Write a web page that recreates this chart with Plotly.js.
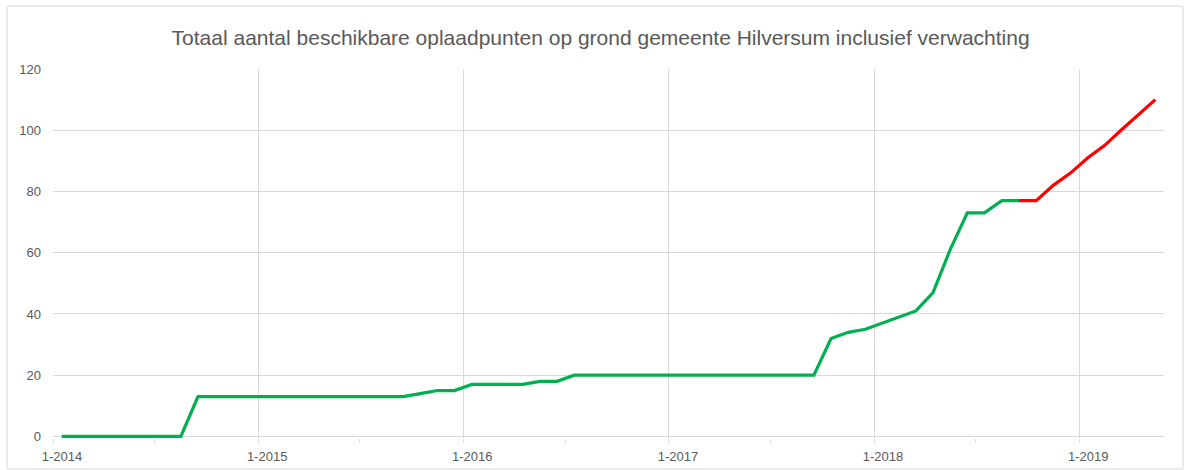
<!DOCTYPE html>
<html>
<head>
<meta charset="utf-8">
<script src="https://cdn.plot.ly/plotly-3.0.1.min.js"></script>
<style>
    body { margin: 0; background: #ffffff; }
    #plot { width: 1187px; height: 470px; }
</style>
</head>
<body>
<div id="plot"></div>
<script>
// months on the x axis (one point per month)
const months = [
    '2014-01', '2014-02', '2014-03', '2014-04', '2014-05', '2014-06', '2014-07', '2014-08', '2014-09', '2014-10', '2014-11', '2014-12',
    '2015-01', '2015-02', '2015-03', '2015-04', '2015-05', '2015-06', '2015-07', '2015-08', '2015-09', '2015-10', '2015-11', '2015-12',
    '2016-01', '2016-02', '2016-03', '2016-04', '2016-05', '2016-06', '2016-07', '2016-08', '2016-09', '2016-10', '2016-11', '2016-12',
    '2017-01', '2017-02', '2017-03', '2017-04', '2017-05', '2017-06', '2017-07', '2017-08', '2017-09', '2017-10', '2017-11', '2017-12',
    '2018-01', '2018-02', '2018-03', '2018-04', '2018-05', '2018-06', '2018-07', '2018-08', '2018-09', '2018-10', '2018-11', '2018-12',
    '2019-01', '2019-02', '2019-03', '2019-04', '2019-05'
];

// realised charge points (green), Jan 2014 - Sep 2018
const actual = [
    0, 0, 0, 0, 0, 0, 0, 0, 13, 13, 13, 13,
    13, 13, 13, 13, 13, 13, 13, 13, 13, 14, 15, 15,
    17, 17, 17, 17, 18, 18, 20, 20, 20, 20, 20, 20,
    20, 20, 20, 20, 20, 20, 20, 20, 20, 32, 34, 35,
    37, 39, 41, 47, 61, 73, 73, 77, 77
];

// expected charge points (red), Sep 2018 - May 2019
const expected = [77, 77, 82, 86, 91, 95, 100, 105, 110];

const actualMonths = months.slice(0, actual.length);
const expectedMonths = months.slice(actual.length - 1);

const traces = [
    {
        type: 'scatter',
        mode: 'lines',
        x: actualMonths,
        y: actual,
        xperiod: 'M1',
        xperiodalignment: 'middle',
        line: { color: '#00B050', width: 3.2 },
        name: 'Gerealiseerd'
    },
    {
        type: 'scatter',
        mode: 'lines',
        x: expectedMonths,
        y: expected,
        xperiod: 'M1',
        xperiodalignment: 'middle',
        line: { color: '#FF0000', width: 3.2 },
        name: 'Verwachting'
    }
];

const layout = {
    width: 1187,
    height: 470,
    margin: { l: 53, r: 23, t: 69, b: 31.5 },
    paper_bgcolor: '#ffffff',
    plot_bgcolor: '#ffffff',
    showlegend: false,
    font: { family: 'Liberation Sans, Arial, sans-serif', color: '#595959', size: 13 },
    title: {
        text: 'Totaal aantal beschikbare oplaadpunten op grond gemeente Hilversum inclusief verwachting',
        font: { size: 21, color: '#595959' },
        x: 0.506,
        xanchor: 'center',
        y: 0.919,
        yanchor: 'middle'
    },
    xaxis: {
        type: 'date',
        range: ['2014-01-01', '2019-06-01'],
        tick0: '2014-01-01',
        dtick: 'M12',
        tickformat: '%-m-%Y',
        ticklabelshift: 9,
        ticklabelstandoff: 2,
        ticks: 'outside',
        ticklen: 4,
        tickcolor: '#d9d9d9',
        showgrid: true,
        gridcolor: '#d9d9d9',
        gridwidth: 1,
        showline: false,
        zeroline: false,
        minor: {
            tick0: '2014-01-01',
            dtick: 'M6',
            ticks: 'outside',
            ticklen: 4,
            tickcolor: '#d9d9d9',
            showgrid: false
        }
    },
    yaxis: {
        // a little room under 0 so the green line on 0 is not cut in half
        range: [-0.5, 120],
        tick0: 0,
        dtick: 20,
        showgrid: true,
        gridcolor: '#d9d9d9',
        gridwidth: 1,
        zeroline: false,
        showline: false,
        ticks: '',
        ticklabelstandoff: 11
    },
    shapes: [
        // thin frame around the whole chart
        {
            type: 'rect',
            xref: 'paper',
            yref: 'paper',
            x0: -0.0414,
            x1: 1.0171,
            y0: -0.084,
            y1: 1.1705,
            line: { color: '#d9d9d9', width: 1 },
            layer: 'below'
        }
    ]
};

Plotly.newPlot('plot', traces, layout, { displayModeBar: false, staticPlot: true });
</script>
</body>
</html>
